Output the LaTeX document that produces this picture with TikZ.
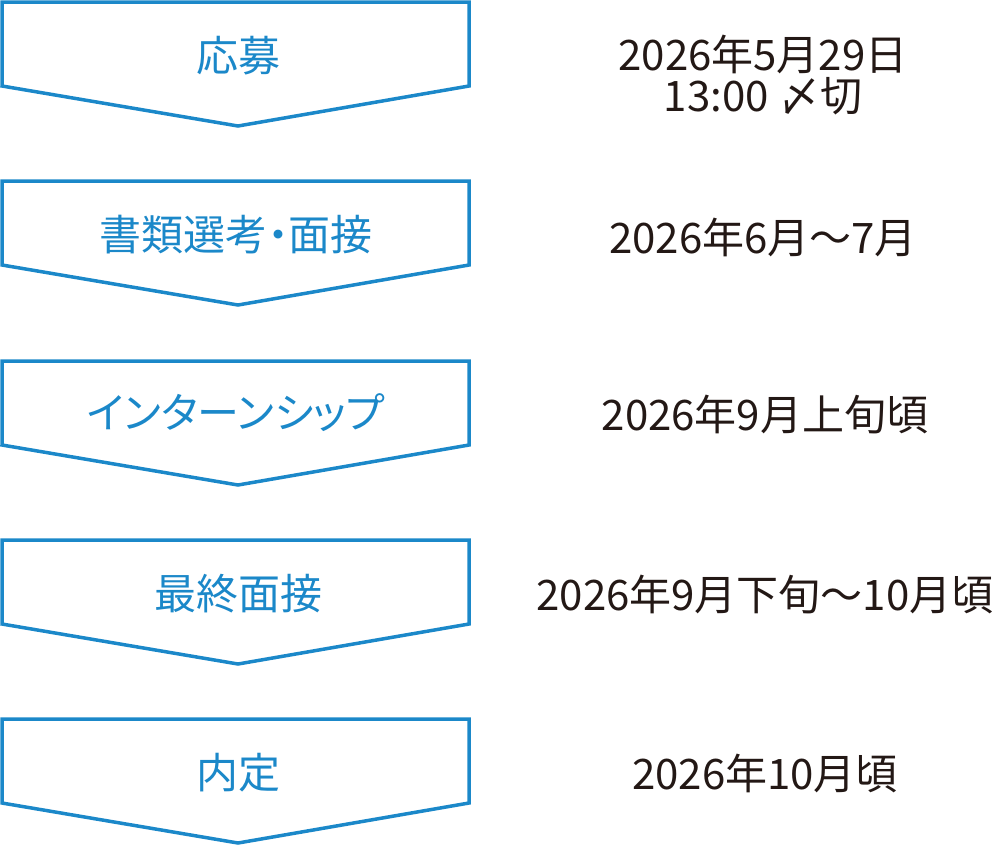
\documentclass[tikz,border=0pt]{standalone}
\usepackage{fontspec}
\newfontfamily\cjk{Noto Sans CJK JP}
\newfontfamily\cjkp[RawFeature=+palt]{Noto Sans CJK JP}
\definecolor{myblue}{RGB}{27,136,201}
\definecolor{mydark}{RGB}{35,24,21}

\tikzset{
    stepshape/.style={draw=myblue, line width=3.5pt, line join=miter},
    steplabel/.style={text=myblue, font=\cjkp\fontsize{42}{44}\selectfont},
    datelabel/.style={text=mydark, font=\cjk\fontsize{42}{41}\selectfont, align=center},
}

\begin{document}
\begin{tikzpicture}[x=1pt, y=-1pt]
    \useasboundingbox (0, 0) rectangle (1000, 849);
    % Steps
    \draw[stepshape] (2, 2) -- (469, 2) -- (469, 86) -- (238, 126) -- (2, 86) -- cycle;
    \draw[stepshape] (2, 181) -- (469, 181) -- (469, 265) -- (238, 305) -- (2, 265) -- cycle;
    \draw[stepshape] (2, 361) -- (469, 361) -- (469, 445) -- (238, 485) -- (2, 445) -- cycle;
    \draw[stepshape] (2, 540) -- (469, 540) -- (469, 624) -- (238, 664) -- (2, 624) -- cycle;
    \draw[stepshape] (2, 719) -- (469, 719) -- (469, 803) -- (238, 843) -- (2, 803) -- cycle;
    \node[steplabel] (apply) at (238, 56) {応募};
    \node[steplabel] (screening) at (236, 235) {書類選考・面接};
    \node[steplabel] (intern) at (236, 413) {インターンシップ};
    \node[steplabel] (final) at (238, 594) {最終面接};
    \node[steplabel] (offer) at (238, 773) {内定};
    % Dates
    \node[datelabel] (applydate) at (763, 75) {2026年5月29日\\13:00 〆切};
    \node[datelabel] (screeningdate) at (763, 237) {2026年6月〜7月};
    \node[datelabel] (interndate) at (765, 415) {2026年9月上旬頃};
    \node[datelabel] (finaldate) at (765, 595) {2026年9月下旬〜10月頃};
    \node[datelabel] (offerdate) at (765, 773) {2026年10月頃};
\end{tikzpicture}
\end{document}
